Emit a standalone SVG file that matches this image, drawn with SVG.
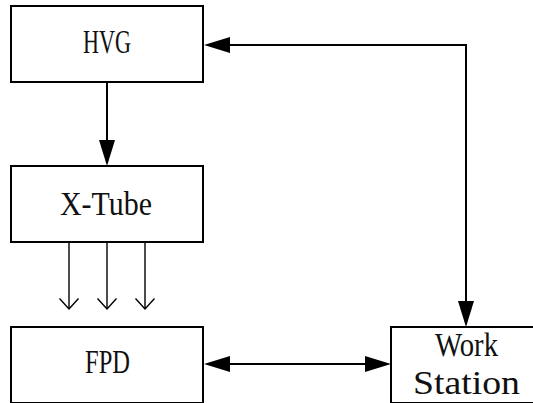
<svg xmlns="http://www.w3.org/2000/svg" width="533" height="403" viewBox="0 0 533 403">
<defs>
<style>
.box{fill:#fff;stroke:#000;stroke-width:2}
.lbl{font-family:"Liberation Serif","Times New Roman",serif;font-size:33px;fill:#111;text-anchor:middle}
.ln{stroke:#000;stroke-width:2;fill:none}
.thin{stroke:#000;stroke-width:1.4;fill:none}
.head{fill:#000;stroke:none}
</style>
</defs>
<rect width="533" height="403" fill="#fff"/>
<g id="connectors">
<line class="ln" x1="107" y1="82" x2="107" y2="141"/>
<polygon class="head" points="99,140 115,140 107,166"/>
<polyline class="ln" points="229,45 466,45 466,302"/>
<polygon class="head" points="204,45 230,37 230,53"/>
<polygon class="head" points="458,301 474,301 466,327"/>
<line class="ln" x1="229" y1="364" x2="367" y2="364"/>
<polygon class="head" points="204,364 230,356 230,372"/>
<polygon class="head" points="391,364 365,356 365,372"/>
<g id="rays">
<line class="thin" x1="69" y1="242" x2="69" y2="309"/>
<polyline class="thin" points="59.5,298.5 69,309 78.5,298.5"/>
<line class="thin" x1="107" y1="242" x2="107" y2="309"/>
<polyline class="thin" points="97.5,298.5 107,309 116.5,298.5"/>
<line class="thin" x1="145" y1="242" x2="145" y2="309"/>
<polyline class="thin" points="135.5,298.5 145,309 154.5,298.5"/>
</g>
</g>
<g id="hvg">
<rect class="box" x="11" y="6" width="192" height="76"/>
<text class="lbl" x="107" y="53" textLength="48" lengthAdjust="spacingAndGlyphs">HVG</text>
</g>
<g id="xtube">
<rect class="box" x="11" y="166" width="192" height="76"/>
<text class="lbl" x="106" y="215" textLength="92" lengthAdjust="spacingAndGlyphs">X-Tube</text>
</g>
<g id="fpd">
<rect class="box" x="11" y="327" width="192" height="76"/>
<text class="lbl" x="107.5" y="373" textLength="45" lengthAdjust="spacingAndGlyphs">FPD</text>
</g>
<g id="workstation">
<rect class="box" x="391" y="327" width="200" height="76"/>
<text class="lbl" x="466.5" y="356" textLength="63" lengthAdjust="spacingAndGlyphs">Work</text>
<text class="lbl" x="466.5" y="394" textLength="107" lengthAdjust="spacingAndGlyphs">Station</text>
</g>
</svg>
